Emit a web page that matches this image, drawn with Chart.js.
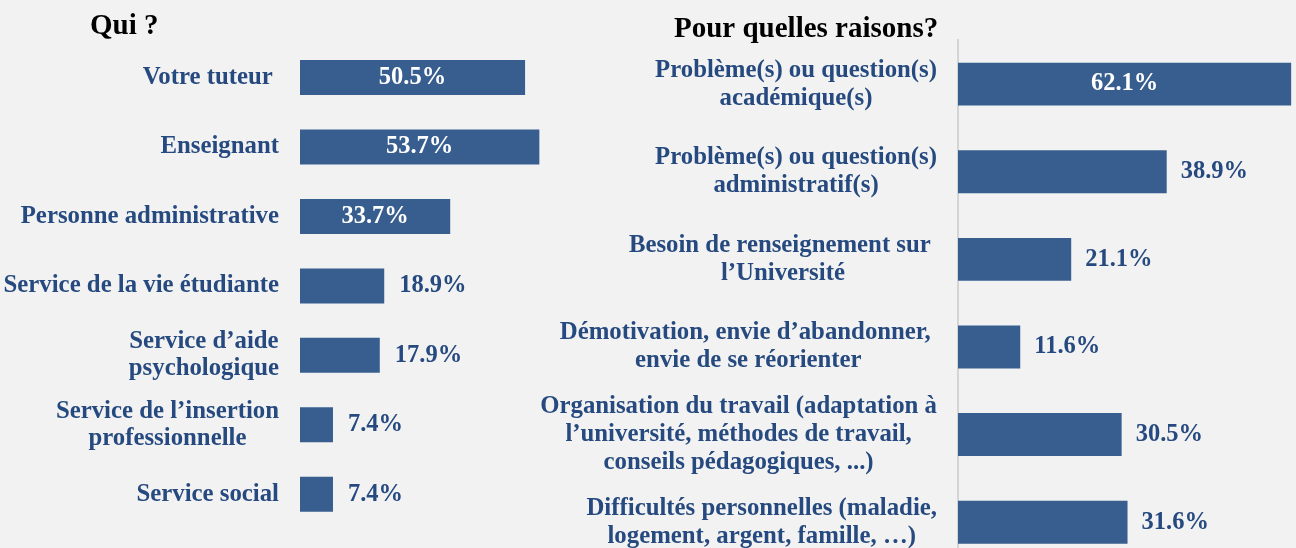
<!DOCTYPE html>
<html lang="fr">
<head>
<meta charset="utf-8">
<title>Qui ? / Pour quelles raisons?</title>
<script src="https://cdn.jsdelivr.net/npm/chart.js@4"></script>
<style>
  html, body { margin: 0; padding: 0; background: #f2f2f2; width: 1296px; height: 548px; overflow: hidden; }
  #qui { position: absolute; left: 0; top: 0; }
  #raisons { position: absolute; left: 530px; top: 0; }
</style>
</head>
<body>
<canvas id="qui" width="612" height="548"></canvas>
<canvas id="raisons" width="766" height="570"></canvas>
<script>
// Qui ?
const quiLabels = [
    'Votre tuteur ',
    'Enseignant',
    'Personne administrative',
    'Service de la vie étudiante',
    ['Service d’aide', 'psychologique'],
    ['Service de l’insertion', 'professionnelle'],
    'Service social'
];
const quiValues = [50.5, 53.7, 33.7, 18.9, 17.9, 7.4, 7.4];

// Pour quelles raisons?
const raisonLabels = [
    ['Problème(s) ou question(s)', 'académique(s)'],
    ['Problème(s) ou question(s)', 'administratif(s)'],
    ['Besoin de renseignement sur ', 'l’Université'],
    ['Démotivation, envie d’abandonner, ', 'envie de se réorienter'],
    ['Organisation du travail (adaptation à', 'l’université, méthodes de travail,', 'conseils pédagogiques, ...)'],
    ['Difficultés personnelles (maladie,', 'logement, argent, famille, …)']
];
const raisonValues = [62.1, 38.9, 21.1, 11.6, 30.5, 31.6];

const barColor = '#375E8F';
const textColor = '#264A7F';
const fontFamily = '"Liberation Serif", "Times New Roman", serif';

// Category labels: block aligned on the right, lines centered inside it
const wrappedLabels = {
    id: 'wrappedLabels',
    afterDraw(chart, args, opts) {
        const ctx = chart.ctx;
        const yScale = chart.scales.y;
        const right = chart.chartArea.left - opts.gap;
        ctx.save();
        ctx.font = `bold ${opts.size}px ${fontFamily}`;
        ctx.fillStyle = textColor;
        ctx.textAlign = 'center';
        ctx.textBaseline = 'middle';
        chart.data.labels.forEach((label, i) => {
            const lines = Array.isArray(label) ? label : [label];
            const w = Math.max(...lines.map(l => ctx.measureText(l).width));
            const cx = right - w / 2;
            const cy = yScale.getPixelForValue(i);
            lines.forEach((line, j) => {
                ctx.fillText(line, cx, cy + (j - (lines.length - 1) / 2) * opts.lineHeight);
            });
        });
        ctx.restore();
    }
};

// Percent labels: white inside long bars, blue after short ones
const valueLabels = {
    id: 'valueLabels',
    afterDatasetsDraw(chart, args, opts) {
        const ctx = chart.ctx;
        const meta = chart.getDatasetMeta(0);
        const values = chart.data.datasets[0].data;
        ctx.save();
        ctx.font = `bold ${opts.size}px ${fontFamily}`;
        ctx.textBaseline = 'middle';
        meta.data.forEach((bar, i) => {
            const text = values[i].toFixed(1) + '%';
            if (values[i] >= opts.insideFrom) {
                ctx.fillStyle = '#ffffff';
                ctx.textAlign = 'center';
                ctx.fillText(text, (bar.base + bar.x) / 2, bar.y);
            } else {
                ctx.fillStyle = textColor;
                ctx.textAlign = 'left';
                ctx.fillText(text, bar.x + opts.gap, bar.y);
            }
        });
        ctx.restore();
    }
};

function makeChart(id, labels, values, cfg) {
    return new Chart(document.getElementById(id), {
        type: 'bar',
        data: {
            labels: labels,
            datasets: [{
                data: values,
                backgroundColor: barColor,
                barPercentage: cfg.barPct,
                categoryPercentage: 1
            }]
        },
        plugins: [wrappedLabels, valueLabels],
        options: {
            indexAxis: 'y',
            responsive: false,
            animation: false,
            events: [],
            layout: { padding: cfg.padding },
            plugins: {
                legend: { display: false },
                tooltip: { enabled: false },
                title: {
                    display: true,
                    text: cfg.title,
                    align: 'start',
                    color: '#000000',
                    font: { family: fontFamily, size: 29, weight: 'bold', lineHeight: 0.7 },
                    padding: cfg.titlePadding
                },
                wrappedLabels: { size: 24.8, lineHeight: cfg.lineHeight, gap: 21 },
                valueLabels: { size: 24.5, insideFrom: cfg.insideFrom, gap: cfg.valueGap }
            },
            scales: {
                x: { display: false, min: 0, max: cfg.xMax },
                y: {
                    ticks: { display: false },
                    grid: { display: false },
                    border: cfg.border,
                    afterFit: (scale) => { scale.width = cfg.axisWidth; }
                }
            }
        }
    });
}

makeChart('qui', quiLabels, quiValues, {
    title: 'Qui ?',
    padding: { left: 90, right: 0, top: 0, bottom: 19 },
    titlePadding: { top: 16, bottom: 6.5 },
    axisWidth: 210,
    xMax: 70,
    barPct: 0.504,
    lineHeight: 27,
    insideFrom: 30,
    valueGap: 15,
    border: { display: false }
});

makeChart('raisons', raisonLabels, raisonValues, {
    title: 'Pour quelles raisons?',
    padding: { left: 144, right: 0, top: 0, bottom: 4 },
    titlePadding: { top: 19.5, bottom: 0.5 },
    axisWidth: 284,
    xMax: 63,
    barPct: 0.49,
    lineHeight: 28,
    insideFrom: 60,
    valueGap: 14,
    border: { display: true, color: '#D4D4D4', width: 2 }
});
</script>
</body>
</html>
